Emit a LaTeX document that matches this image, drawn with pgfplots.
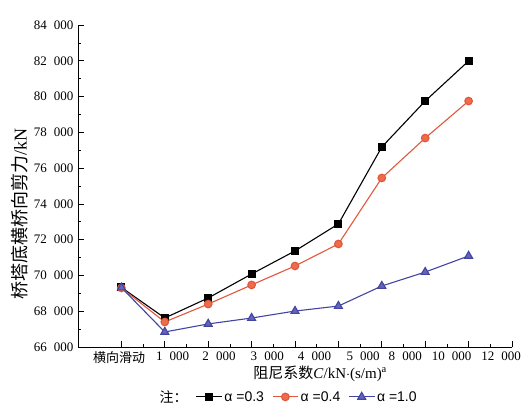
\documentclass[border=0pt]{standalone}
\usepackage{fontspec}
\setmainfont{Liberation Serif}
\newfontfamily\cjk{Noto Sans CJK SC}
\newfontfamily\lsans{Liberation Sans}
\usepackage{pgfplots}
\pgfplotsset{compat=1.18}

\definecolor{cblack}{HTML}{000000}
\definecolor{credline}{HTML}{E0583C}
\definecolor{credfill}{HTML}{EE6B4B}
\definecolor{cblueline}{HTML}{4444A2}
\definecolor{cbluefill}{HTML}{6464BA}

\begin{document}
\begin{tikzpicture}
\useasboundingbox (0,0) rectangle (523pt,408pt);
\begin{axis}[
  at={(78pt,61pt)}, anchor=south west,
  scale only axis, width=434pt, height=322pt,
  axis x line=bottom, axis y line=left,
  axis line style={-, line width=0.8pt},
  xmin=-1, xmax=9, ymin=66000, ymax=84000,
  xtick={0,...,9}, xticklabels={},
  minor x tick num=1,
  ytick={66000,68000,...,84000},
  minor y tick num=1,
  scaled y ticks=false,
  tick align=inside,
  major tick length=6pt, minor tick length=3.5pt,
  tick style={black, line width=0.7pt},
  /pgf/number format/.cd, fixed, precision=0, 1000 sep={\hspace{0.55em}}, assume math mode=true,
  /pgfplots/.cd,
  yticklabel style={font=\fontsize{13}{13}\selectfont, xshift=-1pt},
  extra x ticks={-0.05,1.18,2.25,3.36,4.45,5.57,6.54,7.61,8.75},
  extra x tick labels={{\cjk 横向滑动},1\hspace{0.55em}000,2\hspace{0.55em}000,3\hspace{0.55em}000,4\hspace{0.55em}000,5\hspace{0.55em}000,8\hspace{0.55em}000,10\hspace{0.55em}000,12\hspace{0.55em}000},
  extra x tick style={major tick length=0pt, xticklabel style={font=\fontsize{13}{13}\selectfont, yshift=-1pt}},
  xlabel={{\cjk 阻尼系数}\textit{C}/kN$\cdot$(s/m)$^{\mathrm{a}}$},
  xlabel style={at={(axis description cs:0.558,-0.082)}, anchor=center, font=\fontsize{15}{15}\selectfont},
  ylabel={{\cjk 桥塔底横桥向剪力}/kN},
  ylabel style={at={(axis description cs:-0.134,0.413)}, anchor=center, rotate=0, font=\fontsize{18}{18}\selectfont},
  legend columns=-1,
  legend style={draw=none, fill=none, at={(axis description cs:0.52,-0.155)}, anchor=center,
    font=\lsans\fontsize{14}{14}\selectfont,
    /tikz/every even column/.append style={column sep=6pt}},
  legend image code/.code={
    \draw[mark repeat=2,mark phase=2,#1] plot coordinates {(0cm,0cm) (0.45cm,0cm) (0.9cm,0cm)};
  },
]
\addlegendimage{empty legend}
\addlegendentry{\hspace{-1.1cm}{\cjk 注：}}

\addplot[cblack, line width=1.1pt, mark=square*, mark size=3.4pt, mark options={fill=black}]
  coordinates {(0,69330) (1,67620) (2,68740) (3,70080) (4,71370) (5,72880) (6,77180) (7,79750) (8,81990)};
\addlegendentry{α =0.3}

\addplot[credline, line width=1.1pt, mark=*, mark size=3.8pt, mark options={fill=credfill, draw=credline}]
  coordinates {(0,69300) (1,67400) (2,68400) (3,69470) (4,70530) (5,71760) (6,75450) (7,77680) (8,79750)};
\addlegendentry{α =0.4}

\addplot[cblueline, line width=1.1pt, mark=triangle*, mark size=4.6pt, mark options={fill=cbluefill, draw=cblueline}]
  coordinates {(0,69320) (1,66840) (2,67290) (3,67620) (4,68010) (5,68290) (6,69410) (7,70190) (8,71090)};
\addlegendentry{α =1.0}
\end{axis}
\end{tikzpicture}
\end{document}
